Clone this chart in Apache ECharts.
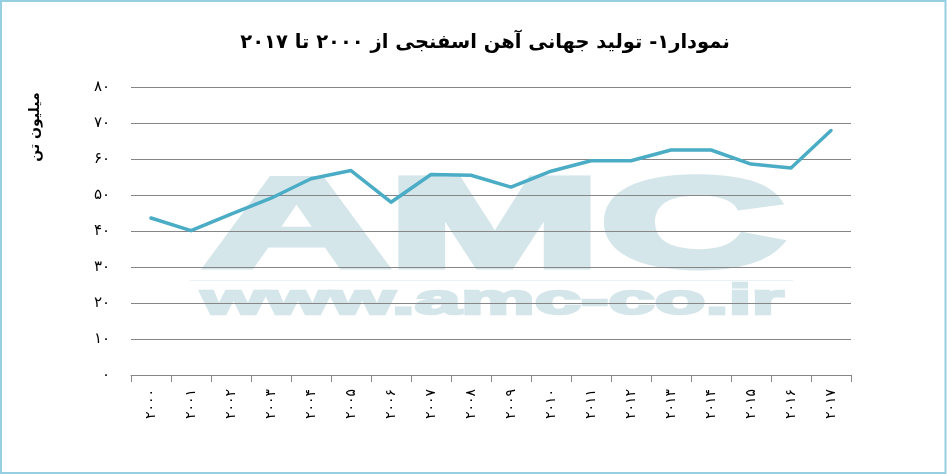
<!DOCTYPE html>
<html><head><meta charset="utf-8">
<script src="https://cdn.jsdelivr.net/npm/echarts@6/dist/echarts.min.js"></script>
<style>html,body{margin:0;padding:0;background:#fff}#c{width:947px;height:474px}</style>
</head><body><div id="c"></div>
<script>
const titleText = 'نمودار۱- تولید جهانی آهن اسفنجی از ۲۰۰۰ تا ۲۰۱۷';
const yAxisName = 'میلیون تن';
const years = ['۲۰۰۰','۲۰۰۱','۲۰۰۲','۲۰۰۳','۲۰۰۴','۲۰۰۵','۲۰۰۶','۲۰۰۷','۲۰۰۸','۲۰۰۹','۲۰۱۰','۲۰۱۱','۲۰۱۲','۲۰۱۳','۲۰۱۴','۲۰۱۵','۲۰۱۶','۲۰۱۷'];
const production = [43.6, 40.1, 44.7, 49.1, 54.5, 56.8, 48.0, 55.7, 55.5, 52.2, 56.6, 59.5, 59.5, 62.5, 62.5, 58.6, 57.5, 67.9];
const yTickValues = [0, 10, 20, 30, 40, 50, 60, 70, 80];
const yTickLabels = ['۰','۱۰','۲۰','۳۰','۴۰','۵۰','۶۰','۷۰','۸۰'];
const watermarkMain = 'AMC';
const watermarkUrl = 'www.amc-co.ir';

const fa = '"DejaVu Sans", sans-serif';
const wm = '#d5e6eb';
const chart = echarts.init(document.getElementById('c'));
chart.setOption({
  backgroundColor: '#ffffff',
  animation: false,
  title: {
    text: titleText,
    left: 480, textAlign: 'center', top: 28,
    textStyle: { fontFamily: fa, fontSize: 19.5, fontWeight: 'bold', color: '#000' }
  },
  grid: { left: 131, right: 96, top: 87, bottom: 99 },
  xAxis: {
    type: 'category',
    data: years,
    boundaryGap: true,
    axisLine: { lineStyle: { color: '#868686', width: 1 } },
    axisTick: { show: true, length: 7, lineStyle: { color: '#868686' } },
    axisLabel: { rotate: 90, margin: 14, fontFamily: fa, fontSize: 14, color: '#000', interval: 0 }
  },
  yAxis: {
    type: 'value',
    min: yTickValues[0], max: yTickValues[yTickValues.length - 1], interval: 10,
    axisLine: { show: false },
    axisTick: { show: false },
    splitLine: { lineStyle: { color: '#868686', width: 1 } },
    axisLabel: {
      margin: 21, fontFamily: fa, fontSize: 15, color: '#000',
      formatter: v => yTickLabels[yTickValues.indexOf(v)]
    }
  },
  graphic: [
    { type: 'rect', z: 100, silent: true,
      shape: { x: 1, y: 1, width: 944.5, height: 472 },
      style: { fill: 'none', stroke: '#96cfe2', lineWidth: 2 } },
    { type: 'text', z: -10, silent: true, x: 494.5, y: 231, scaleX: 2.02,
      style: { text: watermarkMain, fill: wm, stroke: wm, lineWidth: 7, lineJoin: 'miter',
        font: 'bold 126px "Liberation Sans", Arial, sans-serif',
        textAlign: 'center', textVerticalAlign: 'middle' } },
    { type: 'rect', z: -10, silent: true,
      shape: { x: 190, y: 280, width: 603, height: 1 },
      style: { fill: '#e9f2f5' } },
    { type: 'text', z: -10, silent: true, x: 492.5, y: 302, scaleX: 1.93,
      style: { text: watermarkUrl, fill: wm, stroke: wm, lineWidth: 2.5, lineJoin: 'miter',
        font: 'bold 43px "Liberation Sans", Arial, sans-serif',
        textAlign: 'center', textVerticalAlign: 'middle' } },
    { type: 'text', z: 10, silent: true, x: 35, y: 127, rotation: Math.PI / 2,
      style: { text: yAxisName, fill: '#000', font: 'bold 14px "DejaVu Sans", sans-serif',
        textAlign: 'center', textVerticalAlign: 'middle' } }
  ],
  series: [{
    type: 'line',
    data: production,
    symbol: 'none',
    z: 5,
    lineStyle: { color: '#4bacc6', width: 3.5, cap: 'round', join: 'round' }
  }]
});
</script></body></html>
